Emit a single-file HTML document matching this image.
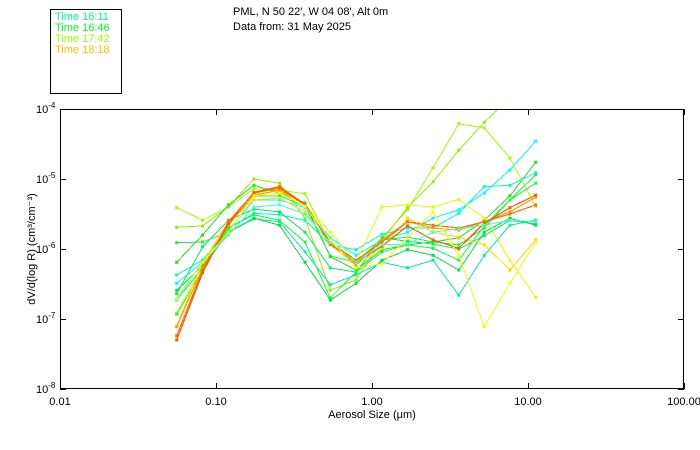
<!DOCTYPE html>
<html><head><meta charset="utf-8">
<style>
html,body{margin:0;padding:0;background:#fff;}
svg{display:block;font-family:"Liberation Sans",sans-serif;}
</style></head>
<body>
<svg id="chart" width="700" height="450" viewBox="0 0 700 450" xmlns="http://www.w3.org/2000/svg">
<rect x="0" y="0" width="700" height="450" fill="#fff"/>
<g>
<rect x="50.5" y="9.5" width="71" height="84" fill="none" stroke="#000"/>
<text x="55" y="20" font-size="11" fill="#00ff90">Time 16:11</text>
<text x="55" y="31" font-size="11" fill="#00ff20">Time 16:46</text>
<text x="55" y="42" font-size="11" fill="#a0ff00">Time 17:42</text>
<text x="55" y="53" font-size="11" fill="#ffc000">Time 18:18</text>
</g>
<text x="233" y="15" font-size="11" fill="#000">PML, N 50 22', W 04 08', Alt 0m</text>
<text x="233" y="30" font-size="11" fill="#000">Data from: 31 May 2025</text>
<text transform="translate(35,249) rotate(-90)" text-anchor="middle" font-size="11" fill="#000">dV/d(log R) (cm³/cm⁻³)</text>
<text x="372" y="418" text-anchor="middle" font-size="11" fill="#000">Aerosol Size (μm)</text>
<g id="axes"></g>
<defs><clipPath id="plotclip"><rect x="60" y="109" width="624" height="280"/></clipPath></defs>
<g id="series" clip-path="url(#plotclip)"></g>
<rect x="60.5" y="109.5" width="623" height="279" fill="none" stroke="#000"/>
</svg>
<script>
// particle sizes (µm)
const sizes = [0.056,0.082,0.12,0.175,0.255,0.372,0.54,0.79,1.16,1.69,2.46,3.6,5.25,7.66,11.2];
const xTicks = [0.01,0.1,1,10,100];
const xTickLabels = ["0.01","0.10","1.00","10.00","100.00"];
const yTickExps = [-4,-5,-6,-7,-8];
// log10 of dV/dlogR for each scan
const s01 = [-5.41,-5.59,-5.40,-5.14,-5.16,-5.21,-5.93,-6.19,-5.84,-5.44,-4.84,-4.21,-4.27,-4.70,-5.39];
const s02 = [-5.69,-5.67,-5.40,-5.00,-5.06,-5.56,-6.59,-6.44,-5.87,-5.41,-5.04,-4.59,-4.19,-3.84,-3.60];
const s03 = [-5.91,-5.90,-5.76,-5.24,-5.24,-5.39,-6.10,-6.19,-5.87,-5.83,-5.90,-5.94,-5.70,-5.30,-4.94];
const s04 = [-6.19,-5.80,-5.37,-5.09,-5.20,-5.34,-6.11,-6.30,-6.01,-5.94,-5.90,-5.84,-5.59,-5.24,-4.76];
const s05 = [-6.37,-6.16,-5.70,-5.49,-5.51,-5.59,-5.94,-6.01,-5.79,-5.70,-5.70,-5.49,-5.11,-5.09,-4.91];
const s06 = [-6.49,-6.19,-5.73,-5.30,-5.30,-5.41,-5.84,-6.09,-5.87,-5.76,-5.56,-5.44,-5.20,-4.87,-4.46];
const s07 = [-6.64,-5.97,-5.59,-5.43,-5.47,-5.76,-6.27,-6.33,-5.84,-5.89,-5.93,-6.00,-5.81,-5.59,-5.64];
const s08 = [-6.91,-6.23,-5.66,-5.23,-5.17,-5.37,-5.76,-6.19,-5.40,-5.37,-5.40,-5.29,-5.56,-6.16,-6.69];
const s09 = [-6.93,-6.30,-5.70,-5.51,-5.59,-5.90,-6.70,-6.33,-6.04,-5.94,-5.99,-6.16,-5.67,-5.30,-5.06];
const s10 = [-6.73,-6.27,-5.76,-5.57,-5.61,-6.04,-6.51,-6.37,-6.19,-6.27,-6.16,-6.66,-6.09,-5.66,-5.59];
const s11 = [-6.59,-6.24,-5.76,-5.56,-5.66,-6.19,-6.73,-6.49,-6.16,-6.01,-6.09,-6.30,-5.76,-5.56,-5.66];
const s12 = [-7.10,-6.19,-5.61,-5.30,-5.27,-5.47,-5.94,-6.23,-5.99,-5.56,-5.76,-5.83,-5.94,-6.30,-5.87];
const s13 = [-7.11,-6.27,-5.66,-5.23,-5.16,-5.36,-5.90,-6.23,-5.87,-5.61,-5.70,-5.73,-5.61,-5.47,-5.26];
const s14 = [-7.24,-6.30,-5.61,-5.20,-5.13,-5.37,-5.91,-6.16,-5.90,-5.61,-5.66,-5.70,-5.61,-5.50,-5.37];
const s15 = [-7.30,-6.34,-5.64,-5.19,-5.11,-5.36,-5.93,-6.19,-5.96,-5.67,-5.87,-5.99,-5.63,-5.41,-5.23];
const s16 = [-6.73,-6.19,-5.80,-5.40,-5.37,-5.50,-5.91,-6.19,-5.94,-5.93,-5.76,-5.71,-5.66,-5.59,-5.61];
const s17 = [-6.70,-6.19,-5.76,-5.24,-5.20,-5.39,-5.87,-6.27,-6.21,-5.84,-5.47,-6.09,-7.11,-6.49,-5.90];
const seriesList = [s01,s02,s03,s04,s05,s06,s07,s08,s09,s10,s11,s12,s13,s14,s15,s16,s17];
const colors = ["#a0ff00","#90f000","#20f040","#20e020","#00ffc0","#00ffff","#00f060","#e0ff00","#10ff30","#00f0a0","#00e040","#ffd800","#ffa000","#ff7000","#ff5a00","#40ffd0","#f0ff00"];

const X0=60,X1=684,Y0=109,Y1=389;
function xScale(v){return X0+(Math.log10(v)+2)/4*(X1-X0);}
function yScale(e){return Y0+(-4-e)/4*(Y1-Y0);}
const NS="http://www.w3.org/2000/svg";
function mk(tag,attrs,parent){const el=document.createElementNS(NS,tag);for(const k in attrs)el.setAttribute(k,attrs[k]);parent.appendChild(el);return el;}

const axes=document.getElementById('axes');
xTicks.forEach((t,i)=>{
  const x=Math.round(xScale(t))+0.5;
  const tb=mk('line',{x1:x,x2:x,y1:Y1,y2:Y1-6,stroke:'#000'},axes);
  
  
  const tt=mk('line',{x1:x,x2:x,y1:Y0,y2:Y0+6,stroke:'#000'},axes);
  
  
  const lb=mk('text',{x:xScale(t),y:Y1+16,'text-anchor':'middle','font-size':11,fill:'#000'},axes);
  lb.textContent=xTickLabels[i];
  
  
});
yTickExps.forEach(e=>{
  const y=Math.round(yScale(e))+0.5;
  const tl=mk('line',{x1:X0,x2:X0+6,y1:y,y2:y,stroke:'#000'},axes);
  
  
  const tr=mk('line',{x1:X1-6,x2:X1,y1:y,y2:y,stroke:'#000'},axes);
  
  
  const lb=mk('text',{x:36,y:yScale(e)+4,'font-size':11,fill:'#000'},axes);
  lb.textContent='10';
  const sup=mk('tspan',{dy:-5,'font-size':8},lb);
  sup.textContent=String(e);
  
  
});

const sg=document.getElementById('series');
seriesList.forEach((s,i)=>{
  const g=mk('g',{},sg);
  
  
  const pts=s.map((e,j)=>xScale(sizes[j]).toFixed(1)+','+yScale(e).toFixed(1)).join(' ');
  const w=(i>=12&&i<=14)?1.2:1;
  const pl=mk('polyline',{points:pts,fill:'none',stroke:colors[i],'stroke-width':w,'shape-rendering':'crispEdges'},g);
  
  
  s.forEach((e,j)=>{
    const r=mk('rect',{x:xScale(sizes[j])-1.5,y:yScale(e)-1.5,width:3,height:3,fill:colors[i]},g);
    
    
  });
});
</script>
</body></html>
